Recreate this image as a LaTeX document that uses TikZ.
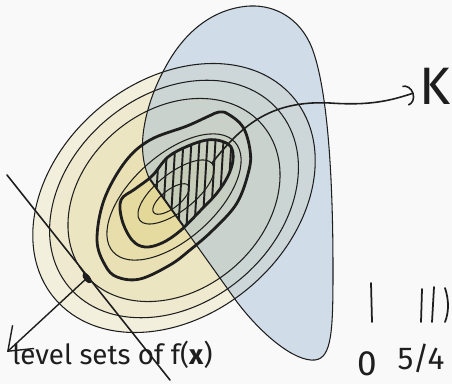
\documentclass[tikz,border=0pt]{standalone}
\usepackage{fontspec}
\setmainfont{Fira Sans}
\usetikzlibrary{arrows.meta, shapes.geometric}
\definecolor{cbg}{HTML}{F9F9F9}
\definecolor{cink}{HTML}{1E1E1E}
\definecolor{yel0}{HTML}{F3EFDD}
\definecolor{yel1}{HTML}{EFEACF}
\definecolor{yel2}{HTML}{ECE5C2}
\definecolor{yel3}{HTML}{E9E1B5}
\definecolor{yel4}{HTML}{E7DEAB}
\definecolor{yel5}{HTML}{E5DBA1}
\definecolor{yel6}{HTML}{E3D897}
\definecolor{kblue}{HTML}{A9C1D9}
% outlines used more than once
\newcommand{\kpath}{(150,180) -- (237,302) .. controls (262,335) and (295,362) .. (315,360)
  .. controls (332,358) and (333,330) .. (333,270) .. controls (333,180) and (328,90) .. (312,48)
  .. controls (300,18) and (275,5) .. (250,6) .. controls (215,8) and (185,30) .. (165,68)
  .. controls (150,95) and (140,130) .. (143,155) .. controls (144,165) and (147,174) .. (150,180) -- cycle}
\newcommand{\tonepath}{plot[smooth cycle, tension=0.6] coordinates {(97,240) (105,265) (117,277)
  (140,279) (170,265) (190,250) (213,230) (237,203) (249,170) (250,150) (243,127) (228,114)
  (219,112) (209,116) (187,126) (150,140) (125,162) (104,200)}}
\newcommand{\ttwopath}{plot[smooth cycle, tension=0.6] coordinates {(121,200) (122,220) (132,240)
  (145,247) (162,243) (180,231) (200,211) (217,193) (228,176) (233,160) (231,147) (221,141)
  (207,140) (188,146) (168,157) (152,176) (135,189)}}
\tikzset{
  every picture/.style={line join=round, line cap=round},
  lvl/.style={draw=cink, line width=0.6pt},
  lvlbold/.style={draw=cink, line width=1.6pt},
  kline/.style={draw=cink, line width=0.6pt},
  hatch/.style={draw=cink, line width=1.1pt},
  tangent/.style={draw=cink, line width=0.9pt},
  gradarrow/.style={draw=cink, line width=0.8pt, -{Straight Barb[length=12pt, width=18pt]}},
  karrow/.style={draw=cink, line width=0.9pt, -{Arc Barb[length=5pt, width=12pt]}},
  lbl/.style={font=\fontsize{15.8}{18}\selectfont, text=cink, inner sep=0pt},
  hand/.style={font=\fontsize{18}{20}\selectfont, text=cink, inner sep=0pt},
  dot/.style={ellipse, fill=cink, minimum width=7pt, minimum height=3.5pt, inner sep=0pt},
}
\begin{document}
\begin{tikzpicture}[x=0.02cm, y=-0.02cm]
  \useasboundingbox (0,0) rectangle (452,384);
  \fill[cbg] (0,0) rectangle (452,384);
  % level sets of f, filled from outside in
  \foreach \cx/\cy/\rx/\ry/\col in {174/198/156/117/yel0, 174/199/137/104/yel1, 174/200/116/90/yel2}
    \fill[\col, rotate around={40:(\cx,\cy)}] (\cx,\cy) ellipse [x radius=\rx, y radius=\ry];
  \fill[yel3] \tonepath;
  \fill[yel4, rotate around={42:(174,197)}] (174,197) ellipse [x radius=82, y radius=42];
  \fill[yel5] \ttwopath;
  \fill[yel6, rotate around={38:(176,192)}] (176,192) ellipse [x radius=46, y radius=19];
  \fill[yel6, rotate around={38:(171,199)}] (171,199) ellipse [x radius=22, y radius=9];
  % the set K
  \fill[kblue, fill opacity=0.5] \kpath;
  % contour lines
  \foreach \cx/\cy/\rx/\ry/\rot in {174/198/156/117/40, 174/199/137/104/40, 174/200/116/90/40,
      174/197/82/42/42, 176/192/46/19/38, 171/199/22/9/38}
    \draw[lvl, rotate around={\rot:(\cx,\cy)}] (\cx,\cy) ellipse [x radius=\rx, y radius=\ry];
  \draw[lvlbold] \tonepath;
  \draw[lvlbold] \ttwopath;
  \draw[kline] \kpath;
  % hatched part inside K
  \begin{scope}
    \clip \ttwopath;
    \clip \kpath;
    \foreach \hx in {152,160,...,240}
      \draw[hatch] (\hx,132) -- (\hx-7,252);
    \draw[lvlbold] \kpath;
  \end{scope}
  % point, tangent and gradient
  \node[dot, rotate=-51.6] (pt) at (87,278) {};
  \coordinate (tA) at (7,175);
  \coordinate (tB) at (170,380);
  \coordinate (gtip) at (7,352);
  \draw[tangent] (tA) -- (tB);
  \draw[gradarrow] (pt.center) -- (gtip);
  % labels
  \node[lbl, anchor=base west] (lvlsets) at (12,364) {level sets of f(\textbf{x})};
  \node[hand, font=\fontsize{30}{32}\selectfont, anchor=west] (K) at (419,86) {K};
  \coordinate (kin) at (212,163);
  \draw[karrow] (kin) .. controls (240,128) and (268,100) .. (330,103)
    .. controls (372,106) and (392,100) .. ([xshift=-3pt, yshift=-4pt]K.west);
  % scale on the right
  \draw[kline, line width=1pt] (371,283) -- (372,322);
  \draw[kline, line width=1pt] (422,289) -- (421,322);
  \draw[kline, line width=1pt] (434,287) -- (432,322);
  \draw[kline, line width=1pt] (445,288) .. controls (449,300) and (449,312) .. (445,322);
  \node[hand, font=\fontsize{20}{22}\selectfont] (zero) at (367,364) {0};
  \node[hand] (ratio) at (421,358) {5/4};
\end{tikzpicture}
\end{document}
